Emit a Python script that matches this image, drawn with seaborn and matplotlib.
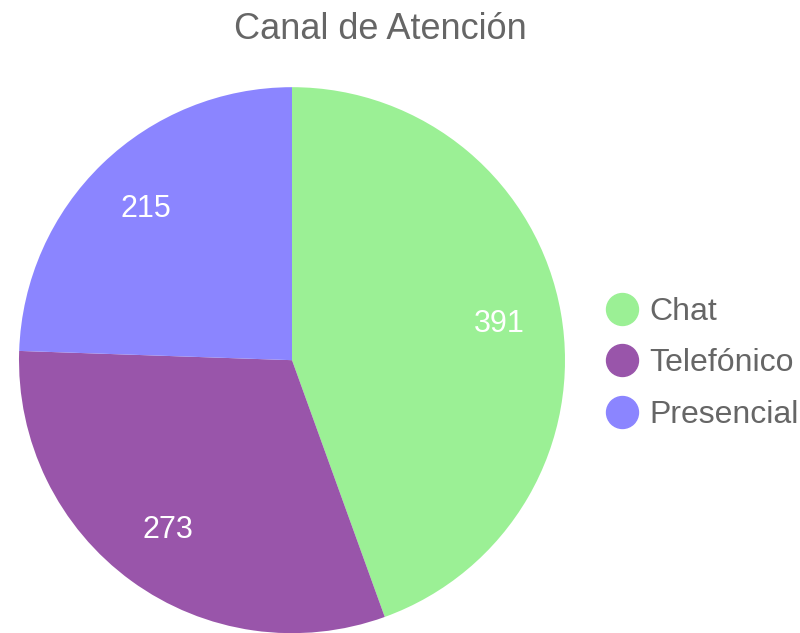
import matplotlib
matplotlib.use("Agg")
import matplotlib.pyplot as plt
from matplotlib.lines import Line2D
import seaborn as sns

# DATA
canales = ["Chat", "Telefónico", "Presencial"]
valores = [391, 273, 215]
colores = ["#9bf095", "#9955aa", "#8b85ff"]

sns.set_theme(style="white")
plt.rcParams["font.family"] = ["Liberation Sans", "DejaVu Sans"]

fig = plt.figure(figsize=(8, 6.33), dpi=100)
ax = fig.add_axes([0.02375, -0.0003, 0.6825, 0.8626])

wedges, texts = ax.pie(
    valores,
    colors=colores,
    startangle=90,
    counterclock=False,
    labels=[str(v) for v in valores],
    labeldistance=0.77,
    radius=1,
    wedgeprops=dict(linewidth=0),
    textprops=dict(color="white", fontsize=22),
)
for t in texts:
    t.set_horizontalalignment("center")
    t.set_verticalalignment("center")
ax.set_xlim(-1, 1)
ax.set_ylim(-1, 1)
ax.set_aspect("equal")

fig.text(0.475, 0.953, "Canal de Atención", ha="center", va="center",
         fontsize=26, color="#666666")

handles = [Line2D([0], [0], marker="o", linestyle="", markersize=23,
                  markerfacecolor=c, markeredgecolor=c) for c in colores]
leg = fig.legend(handles, canales, loc="center left",
                 bbox_to_anchor=(0.712, 0.426), frameon=False,
                 fontsize=23, handletextpad=0.1, labelspacing=0.67,
                 handlelength=1.5)
for t in leg.get_texts():
    t.set_color("#666666")

fig.savefig("out.png", dpi=100)
